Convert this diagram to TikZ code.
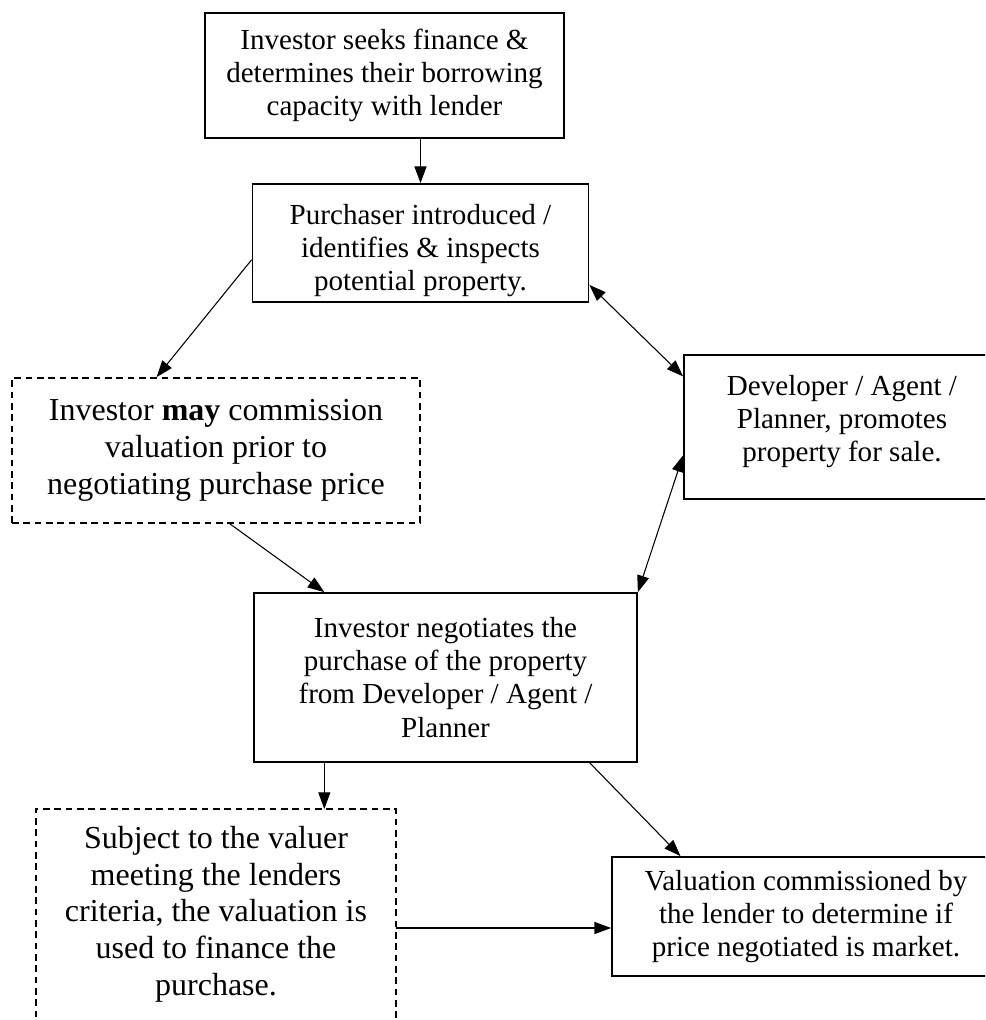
\documentclass[tikz,border=0pt]{standalone}
\usepackage{fontspec}
\setmainfont{Liberation Serif}
\usetikzlibrary{arrows.meta,calc}
\tikzset{
  box/.style={draw, line width=1.3pt, rectangle, inner sep=0pt, align=center,
    font=\fontsize{21.8}{24.8}\selectfont},
  dbox/.style={box, dash pattern=on 5pt off 3.5pt,
    font=\fontsize{24}{27.5}\selectfont},
  txt/.style={inner sep=0pt, align=center, font=\fontsize{24}{27.5}\selectfont},
  dline/.style={draw, line width=1.3pt, dash pattern=on 5pt off 3.5pt},
  tip/.tip={Triangle[length=12.5pt,width=9pt]},
  arr/.style={line width=0.8pt, -tip},
  darr/.style={line width=0.8pt, tip-tip},
}
\begin{document}
\begin{tikzpicture}[x=0.75pt, y=-0.75pt]
\clip (0,0) rectangle (985,1020);
\fill[white] (0,0) rectangle (985,1020);

\node[box, minimum width={359*0.75pt}, minimum height={125*0.75pt}] (b1) at (384.5,75.5)
  {Investor seeks finance \&\\determines their borrowing\\capacity with lender};
\node[box, minimum width={336*0.75pt}, minimum height={118*0.75pt}] (b2) at (420.5,243)
  {\rule{0pt}{26pt}Purchaser introduced /\\identifies \& inspects\\potential property.};
\node[dbox, minimum width={408*0.75pt}, minimum height={145*0.75pt}] (d3) at (216,450.5)
  {Investor \textbf{may} commission\\valuation prior to\\negotiating purchase price};
\node[box, minimum width={316*0.75pt}, minimum height={144*0.75pt}] (b4) at (842,427)
  {Developer / Agent /\\Planner, promotes\\property for sale.\rule[-12.5pt]{0pt}{12.5pt}};
\node[box, minimum width={383*0.75pt}, minimum height={169*0.75pt}] (b5) at (445.5,677.5)
  {Investor negotiates the\\purchase of the property\\from Developer / Agent /\\Planner};
\node[txt] (d6) at (216,914)
  {Subject to the valuer\\meeting the lenders\\criteria, the valuation is\\used to finance the\\purchase.};
\coordinate (d6nw) at (36,809);
\coordinate (d6ne) at (396,809);
\coordinate (d6sw) at (36,1040);
\coordinate (d6se) at (396,1040);
\path[dline] (d6sw) -- (d6nw) -- (d6ne) -- (d6se);
\node[box, minimum width={388*0.75pt}, minimum height={119*0.75pt}] (b7) at (806,916.5)
  {Valuation commissioned by\\the lender to determine if\\price negotiated is market.};

% connectors
\draw[arr] (b2.north |- b1.south) -- (b2.north);
\draw[arr] ($(b2.north west)!0.64!(b2.south west)$) -- ($(d3.north west)!0.355!(d3.north east)$);
\draw[darr] ($(b2.north east)!0.85!(b2.south east)$) -- ($(b4.north west)!0.153!(b4.south west)$);
\draw[darr] ($(b4.north west)!0.694!(b4.south west)$) -- (b5.north east);
\draw[arr] ($(d3.south west)!0.534!(d3.south east)$) -- ($(b5.north west)!0.185!(b5.north east)$);
\draw[arr] ($(b5.south west)!0.185!(b5.south east)$) coordinate (a6) -- (a6 |- d6nw);
\draw[arr] ($(b5.south west)!0.875!(b5.south east)$) -- ($(b7.north west)!0.178!(b7.north east)$);
\coordinate (d6r) at (396,928);
\draw[arr] (d6r) -- (d6r -| b7.west);
\end{tikzpicture}
\end{document}
